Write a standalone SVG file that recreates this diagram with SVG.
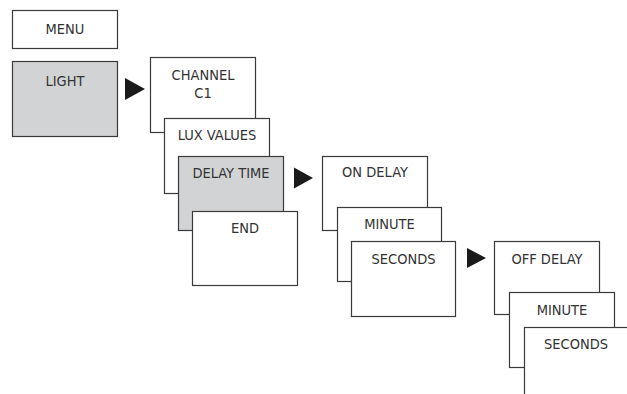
<svg xmlns="http://www.w3.org/2000/svg" width="627" height="394" viewBox="0 0 627 394">
<style>
.box{fill:#ffffff;stroke:#3a3a3a;stroke-width:1.2}
.sel{fill:#d2d3d5;stroke:#3a3a3a;stroke-width:1.2}
.t{font-family:"DejaVu Sans Condensed","DejaVu Sans",sans-serif;font-stretch:condensed;font-size:14.5px;fill:#333333;text-anchor:middle}
.arr{fill:#1a1a1a}
</style>
<rect width="627" height="394" fill="#ffffff"/>
<g id="menu"><rect class="box" x="12.5" y="10.5" width="105" height="38"/><text class="t" x="65" y="34">MENU</text></g>
<g id="light"><rect class="sel" x="12.5" y="61.5" width="105" height="75"/><text class="t" x="65" y="86">LIGHT</text></g>
<g id="channel"><rect class="box" x="150.5" y="57.5" width="105" height="75"/><text class="t" x="203" y="79.5">CHANNEL</text><text class="t" x="203" y="98">C1</text></g>
<g id="lux-values"><rect class="box" x="164.5" y="118.5" width="105" height="75"/><text class="t" x="217" y="140">LUX VALUES</text></g>
<g id="delay-time"><rect class="sel" x="178.5" y="156.5" width="105" height="74"/><text class="t" x="231" y="178">DELAY TIME</text></g>
<g id="end"><rect class="box" x="192.5" y="211.5" width="105" height="74"/><text class="t" x="245" y="232.5">END</text></g>
<g id="on-delay"><rect class="box" x="322.5" y="156.5" width="105" height="74"/><text class="t" x="375" y="177">ON DELAY</text></g>
<g id="on-minute"><rect class="box" x="337.5" y="207.5" width="104" height="74"/><text class="t" x="389.5" y="228.5">MINUTE</text></g>
<g id="on-seconds"><rect class="box" x="351.5" y="241.5" width="104" height="75"/><text class="t" x="403.5" y="263.5">SECONDS</text></g>
<g id="off-delay"><rect class="box" x="494.5" y="241.5" width="105" height="73"/><text class="t" x="547" y="263.5">OFF DELAY</text></g>
<g id="off-minute"><rect class="box" x="509.5" y="292.5" width="105" height="75"/><text class="t" x="562" y="314.5">MINUTE</text></g>
<g id="off-seconds"><rect class="box" x="524.5" y="327.5" width="105" height="75"/><text class="t" x="576" y="348.5">SECONDS</text></g>
<g id="connectors">
<polygon class="arr" points="125,78 145,89 125,100"/>
<polygon class="arr" points="294,167.5 313,178 294,188.5"/>
<polygon class="arr" points="467,248 486,258 467,268"/>
</g>
</svg>
